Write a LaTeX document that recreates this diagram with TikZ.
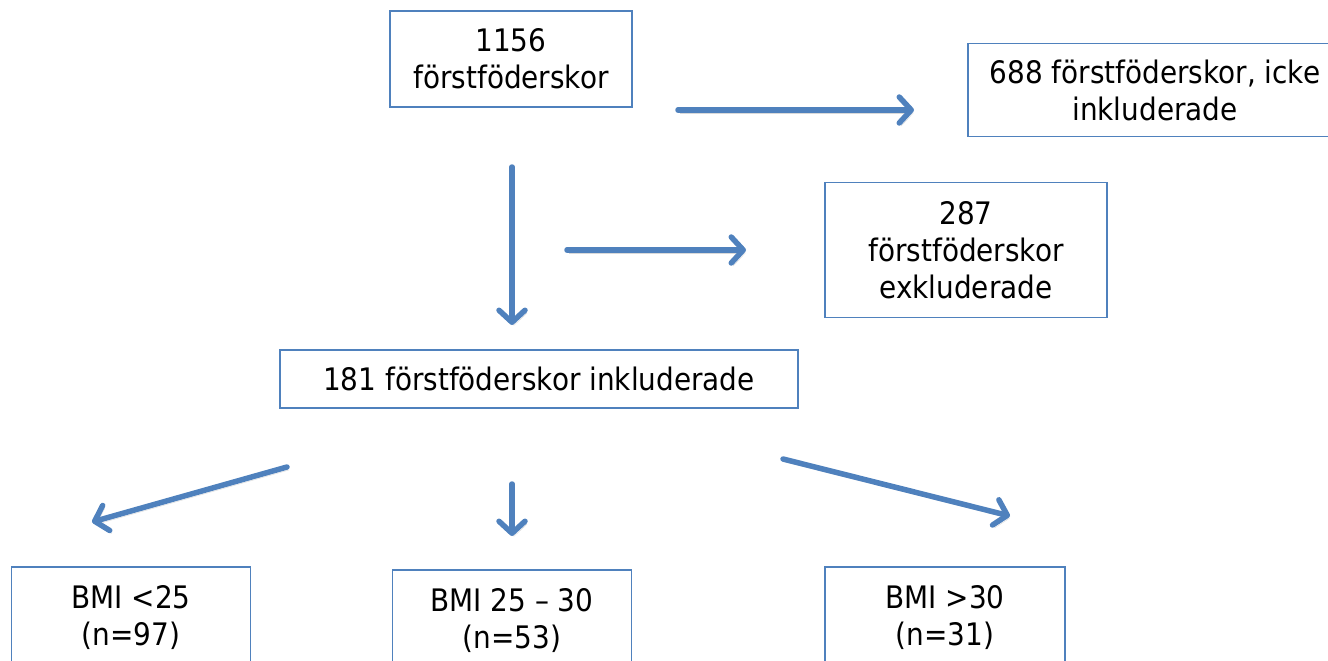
\documentclass[tikz,border=0pt]{standalone}
\usepackage{fontspec}
\setmainfont{DejaVu Sans}[FakeStretch=0.9]
\usetikzlibrary{arrows.meta}
\definecolor{flowblue}{HTML}{4F81BD}

\begin{document}
\begin{tikzpicture}[x=1pt, y=-1pt,
    box/.style={draw=flowblue, line width=1.8pt, align=center, inner sep=0pt, font=\fontsize{31}{37}\selectfont},
    flow/.style={draw=flowblue, line width=5.5pt, line cap=round,
      -{Straight Barb[length=12pt, width=26pt, line cap=round, line join=round]},
      preaction={draw=black, opacity=.15, transform canvas={xshift=2pt, yshift=-3pt}}}]
    \useasboundingbox (0,0) rectangle (1328,661);
    \clip (0,0) rectangle (1328,661);
    % boxes
    \node[box, minimum width=242pt, minimum height=96pt] (total) at (511,59) {1156\\förstföderskor};
    \node[box, minimum width=374pt, minimum height=93pt] (notincl) at (1155,90) {688 förstföderskor, icke\\inkluderade};
    \node[box, minimum width=282pt, minimum height=135pt] (excl) at (966,250) {287\\förstföderskor\\exkluderade};
    \node[box, minimum width=518pt, minimum height=58pt] (incl) at (539,379) {181 förstföderskor inkluderade};
    \node[box, minimum width=239pt, minimum height=102pt] (bmilow) at (131,618) {BMI <25\\(n=97)};
    \node[box, minimum width=239pt, minimum height=102pt] (bmimid) at (512,621) {BMI 25 – 30\\(n=53)};
    \node[box, minimum width=240pt, minimum height=102pt] (bmihigh) at (945,618) {BMI >30\\(n=31)};
    % arrow ends
    \coordinate (notinclfrom) at (678,110);  \coordinate (notinclto) at (914,110);
    \coordinate (inclfrom) at (512,167);     \coordinate (inclto) at (512,325);
    \coordinate (exclfrom) at (567,250);     \coordinate (exclto) at (746,250);
    \coordinate (lowfrom) at (287,467);      \coordinate (lowto) at (92,522);
    \coordinate (midfrom) at (512,484);      \coordinate (midto) at (512,536);
    \coordinate (highfrom) at (783,459);     \coordinate (highto) at (1010,516);
    % arrows
    \draw[flow] (notinclfrom) -- (notinclto);
    \draw[flow] (inclfrom) -- (inclto);
    \draw[flow] (exclfrom) -- (exclto);
    \draw[flow] (lowfrom) -- (lowto);
    \draw[flow] (midfrom) -- (midto);
    \draw[flow] (highfrom) -- (highto);
\end{tikzpicture}
\end{document}
